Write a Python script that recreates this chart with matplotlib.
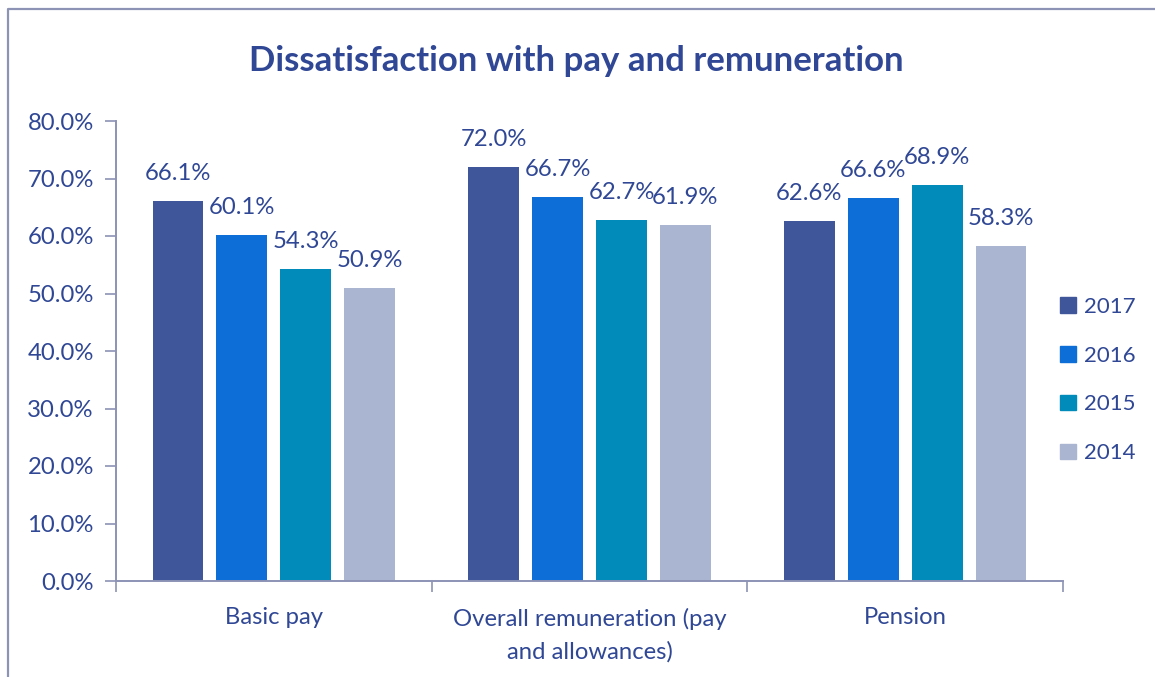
import numpy as np
import matplotlib
matplotlib.use("Agg")
import matplotlib.pyplot as plt
from matplotlib.ticker import FuncFormatter, MultipleLocator
import matplotlib.patches as mpatches

# ── Data ────────────────────────────────────────────────────────────────────
categories = ["Basic pay", "Overall remuneration (pay\nand allowances)", "Pension"]
years = ["2017", "2016", "2015", "2014"]
v2017 = [66.1, 72.0, 62.6]
v2016 = [60.1, 66.7, 66.6]
v2015 = [54.3, 62.7, 68.9]
v2014 = [50.9, 61.9, 58.3]
series = [v2017, v2016, v2015, v2014]

# ── Style ───────────────────────────────────────────────────────────────────
TEXT = "#2F4795"
AXIS = "#8C93B5"
COLORS = ["#3F569B", "#0C6ED6", "#008BBB", "#AAB5D2"]
FONT = ["Lato", "DejaVu Sans"]
FS = 17.2

plt.rcParams["font.family"] = FONT

fig = plt.figure(figsize=(11.55, 6.77), dpi=100, facecolor="white")

# outer chart frame (only top/left visible in crop)
fig.add_artist(plt.Line2D([8 / 1155, 8 / 1155, 1.0], [0.0, 1 - 8.5 / 677, 1 - 8.5 / 677],
                          transform=fig.transFigure, color=AXIS, linewidth=1.6))

ax = fig.add_axes([116 / 1155, 1 - 581 / 677, (1063 - 116) / 1155, (581 - 121) / 677])

x = np.arange(len(categories))
width = 0.161
step = 0.2025
for i, (yr, vals) in enumerate(zip(years, series)):
    pos = x + (i - 1.5) * step
    bars = ax.bar(pos, vals, width=width, color=COLORS[i], label=yr, zorder=2)
    for b, v in zip(bars, vals):
        ax.text(b.get_x() + b.get_width() / 2, v + 4.8, f"{v:.1f}%",
                ha="center", va="center", fontsize=FS, color=TEXT)

ax.set_xlim(-0.5, len(categories) - 0.5)
ax.set_ylim(0, 80)
ax.yaxis.set_major_locator(MultipleLocator(10))
ax.yaxis.set_major_formatter(FuncFormatter(lambda v, _: f"{v:.1f}%"))

# category labels between boundary ticks
ax.set_xticks(np.arange(-0.5, len(categories), 1.0))
ax.set_xticklabels([])
ax.tick_params(axis="x", length=8, width=1.2, color=AXIS, direction="out")
for xi, lab in zip(x, categories):
    ax.text(xi, -4.6, lab, ha="center", va="top", fontsize=FS, color=TEXT,
            linespacing=1.65)

ax.tick_params(axis="y", length=8, width=1.2, color=AXIS, labelsize=FS,
               labelcolor=TEXT, pad=8)

for s in ["top", "right"]:
    ax.spines[s].set_visible(False)
for s in ["left", "bottom"]:
    ax.spines[s].set_color(AXIS)
    ax.spines[s].set_linewidth(1.4)

# Title
fig.text(576 / 1155, 1 - 61 / 677, "Dissatisfaction with pay and remuneration",
         ha="center", va="center", fontsize=25, fontweight="bold", color=TEXT)

# Legend
handles = [mpatches.Patch(color=c, label=y) for c, y in zip(COLORS, years)]
leg = fig.legend(handles=handles, loc="center left",
                 bbox_to_anchor=(1040 / 1155, 1 - 380 / 677), frameon=False,
                 fontsize=16, labelcolor=TEXT, handlelength=0.7, handleheight=0.7,
                 handletextpad=0.4, labelspacing=1.3)

plt.savefig("out.png", dpi=100, facecolor="white")
